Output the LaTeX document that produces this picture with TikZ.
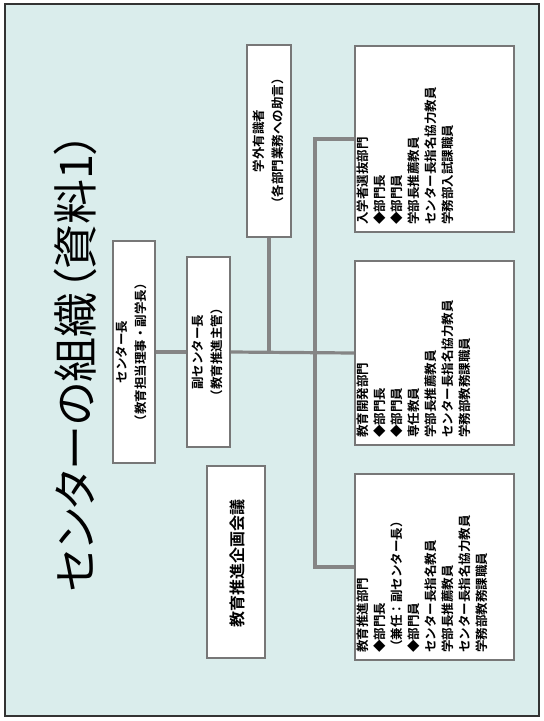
\documentclass[tikz,border=0pt]{standalone}
\usepackage{fontspec}
\usetikzlibrary{calc}
\setmainfont{Noto Sans CJK JP}[BoldFont={Noto Sans CJK JP Bold}]
\newfontfamily\titlefont{Noto Sans CJK JP}[RawFeature=+palt]
\definecolor{bgteal}{HTML}{DAEDEC}
\definecolor{boxline}{HTML}{777777}
\definecolor{connline}{HTML}{858585}
\tikzset{
  orgbox/.style={draw=boxline, fill=white, line width=2.2pt, inner sep=0pt},
  conn/.style={draw=connline, line width=3.2pt},
  boxtext/.style={rotate=90, inner sep=0pt, font=\bfseries\fontsize{12.5}{17}\selectfont},
  midtext/.style={rotate=90, inner sep=0pt, align=center, font=\bfseries\fontsize{12.5}{19}\selectfont},
  deptext/.style={boxtext, anchor=north west, align=left}
}
\begin{document}
\begin{tikzpicture}[x=1pt,y=-1pt]
\useasboundingbox (0,0) rectangle (544,721);
\fill[white] (0,0) rectangle (544,721);
\draw[fill=bgteal, draw=black!80, line width=1.2pt] (5,4) rectangle (539,716);

% title
\node[rotate=90, inner sep=0pt, font=\titlefont\fontsize{45}{45}\selectfont] (title) at (75,362) {センターの組織（資料1）};

% boxes
\node[orgbox, minimum width=42, minimum height=222] (chief) at (134,352) {};
\node[orgbox, minimum width=43, minimum height=190] (vice) at (208.5,352) {};
\node[orgbox, minimum width=58, minimum height=192] (council) at (236,562) {};
\node[orgbox, minimum width=44, minimum height=192] (adv) at (269,141) {};
\node[orgbox, minimum width=159, minimum height=186] (dep1) at (434.5,139) {};
\node[orgbox, minimum width=159, minimum height=184] (dep2) at (434.5,353) {};
\node[orgbox, minimum width=159, minimum height=186] (dep3) at (434.5,567) {};

% connectors
\coordinate (trunk) at (315,352);
\draw[conn] (chief.east) -- (vice.west);
\draw[conn] (vice.east) -- (dep2.west);
\draw[conn] (adv.south) -- (adv.south |- vice.east);
\draw[conn] (dep1.west) -| (trunk) |- (dep3.west);

% texts
\node[midtext] at (131,352) {センター長\\（教育担当理事・副学長）};
\node[midtext] at (207.5,352) {副センター長\\（教育推進主管）};
\node[midtext] at (268,141) {学外有識者\\（各部門業務への助言）};
\node[rotate=90, inner sep=0pt, font=\bfseries\fontsize{16}{18}\selectfont] at (237,563) {教育推進企画会議};

\node[deptext] at ($(dep1.south west)+(3,-8)$) {入学者選抜部門\\◆部門長\\◆部門員\\学部長推薦教員\\センター長指名協力教員\\学務部入試課職員};
\node[deptext] at ($(dep2.south west)+(3,-8)$) {教育開発部門\\◆部門長\\◆部門員\\専任教員\\学部長推薦教員\\センター長指名協力教員\\学務部教務課職員};
\node[deptext] at ($(dep3.south west)+(3,-8)$) {教育推進部門\\◆部門長\\（兼任：副センター長）\\◆部門員\\センター長指名教員\\学部長推薦教員\\センター長指名協力教員\\学務部教務課職員};
\end{tikzpicture}
\end{document}
